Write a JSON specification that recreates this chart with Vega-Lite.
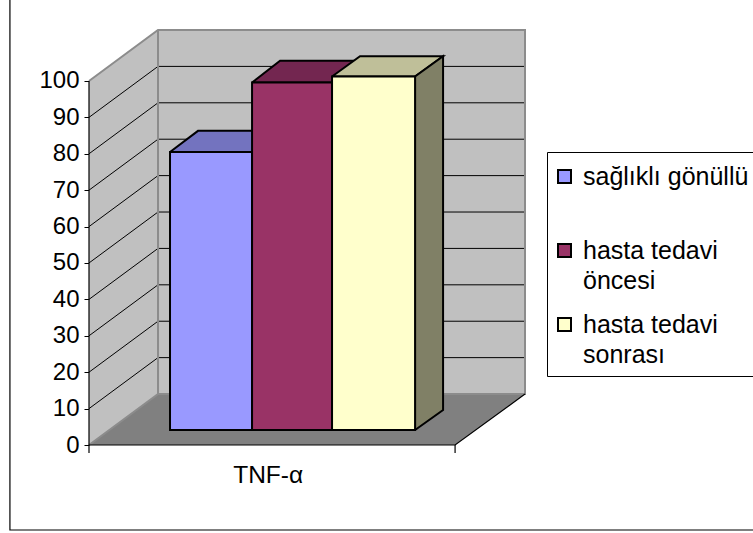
{
  "$schema": "https://vega.github.io/schema/vega-lite/v6.json",
  "width": 436,
  "height": 415,
  "autosize": {"type": "none"},
  "padding": {"left": 89, "top": 30, "right": 228, "bottom": 88},
  "background": "white",
  "config": {"view": {"stroke": null}, "font": "Liberation Sans"},
  "datasets": {
    "shell": [
      {"face": "sol duvar", "i": 0, "u": 0, "v": 0},
      {"face": "sol duvar", "i": 1, "u": 0, "v": 100},
      {"face": "sol duvar", "i": 2, "u": 18.85, "v": 114},
      {"face": "sol duvar", "i": 3, "u": 18.85, "v": 14},
      {"face": "sol duvar", "i": 4, "u": 0, "v": 0},
      {"face": "arka duvar", "i": 0, "u": 18.85, "v": 14},
      {"face": "arka duvar", "i": 1, "u": 18.85, "v": 114},
      {"face": "arka duvar", "i": 2, "u": 119.1, "v": 114},
      {"face": "arka duvar", "i": 3, "u": 119.1, "v": 14},
      {"face": "arka duvar", "i": 4, "u": 18.85, "v": 14},
      {"face": "taban", "i": 0, "u": 0, "v": 0},
      {"face": "taban", "i": 1, "u": 100, "v": 0},
      {"face": "taban", "i": 2, "u": 119.1, "v": 14},
      {"face": "taban", "i": 3, "u": 18.85, "v": 14},
      {"face": "taban", "i": 4, "u": 0, "v": 0}
    ],
    "grid": [
      {"g": 10, "i": 0, "u": 0, "v": 10}, {"g": 10, "i": 1, "u": 18.85, "v": 24}, {"g": 10, "i": 2, "u": 119.1, "v": 24},
      {"g": 20, "i": 0, "u": 0, "v": 20}, {"g": 20, "i": 1, "u": 18.85, "v": 34}, {"g": 20, "i": 2, "u": 119.1, "v": 34},
      {"g": 30, "i": 0, "u": 0, "v": 30}, {"g": 30, "i": 1, "u": 18.85, "v": 44}, {"g": 30, "i": 2, "u": 119.1, "v": 44},
      {"g": 40, "i": 0, "u": 0, "v": 40}, {"g": 40, "i": 1, "u": 18.85, "v": 54}, {"g": 40, "i": 2, "u": 119.1, "v": 54},
      {"g": 50, "i": 0, "u": 0, "v": 50}, {"g": 50, "i": 1, "u": 18.85, "v": 64}, {"g": 50, "i": 2, "u": 119.1, "v": 64},
      {"g": 60, "i": 0, "u": 0, "v": 60}, {"g": 60, "i": 1, "u": 18.85, "v": 74}, {"g": 60, "i": 2, "u": 119.1, "v": 74},
      {"g": 70, "i": 0, "u": 0, "v": 70}, {"g": 70, "i": 1, "u": 18.85, "v": 84}, {"g": 70, "i": 2, "u": 119.1, "v": 84},
      {"g": 80, "i": 0, "u": 0, "v": 80}, {"g": 80, "i": 1, "u": 18.85, "v": 94}, {"g": 80, "i": 2, "u": 119.1, "v": 94},
      {"g": 90, "i": 0, "u": 0, "v": 90}, {"g": 90, "i": 1, "u": 18.85, "v": 104}, {"g": 90, "i": 2, "u": 119.1, "v": 104}
    ],
    "wallEdges": [
      {"e": "kenar", "i": 0, "u": 0, "v": 100},
      {"e": "kenar", "i": 1, "u": 18.85, "v": 114},
      {"e": "kenar", "i": 2, "u": 119.1, "v": 114},
      {"e": "kenar", "i": 3, "u": 119.1, "v": 14},
      {"e": "kenar", "i": 4, "u": 18.85, "v": 14},
      {"e": "kenar", "i": 5, "u": 18.85, "v": 114},
      {"e": "kenar", "i": 6, "u": 18.85, "v": 14},
      {"e": "kenar", "i": 7, "u": 0, "v": 0}
    ],
    "blackEdges": [
      {"e": "sol", "i": 0, "u": 0, "v": 100},
      {"e": "sol", "i": 1, "u": 0, "v": -2.2},
      {"e": "on", "i": 0, "u": 0, "v": 0},
      {"e": "on", "i": 1, "u": 100, "v": 0},
      {"e": "on", "i": 2, "u": 119.1, "v": 14},
      {"e": "cizgi", "i": 0, "u": 100, "v": 0},
      {"e": "cizgi", "i": 1, "u": 100, "v": -2.2},
      {"e": "cerceve", "i": 0, "u": -21.6, "v": 122.3},
      {"e": "cerceve", "i": 1, "u": -21.6, "v": -23.35},
      {"e": "cerceve", "i": 2, "u": 181.4, "v": -23.35}
    ],
    "barFaces": [
      {"face": "mavi üst", "i": 0, "u": 22.13, "v": 80.49},
      {"face": "mavi üst", "i": 1, "u": 44.54, "v": 80.49},
      {"face": "mavi üst", "i": 2, "u": 52.19, "v": 86.3},
      {"face": "mavi üst", "i": 3, "u": 29.78, "v": 86.3},
      {"face": "mavi üst", "i": 4, "u": 22.13, "v": 80.49},
      {"face": "mor üst", "i": 0, "u": 44.54, "v": 99.59},
      {"face": "mor üst", "i": 1, "u": 66.39, "v": 99.59},
      {"face": "mor üst", "i": 2, "u": 74.04, "v": 105.55},
      {"face": "mor üst", "i": 3, "u": 52.19, "v": 105.55},
      {"face": "mor üst", "i": 4, "u": 44.54, "v": 99.59},
      {"face": "sarı üst", "i": 0, "u": 66.39, "v": 101.24},
      {"face": "sarı üst", "i": 1, "u": 89.07, "v": 101.24},
      {"face": "sarı üst", "i": 2, "u": 96.72, "v": 106.8},
      {"face": "sarı üst", "i": 3, "u": 74.04, "v": 106.8},
      {"face": "sarı üst", "i": 4, "u": 66.39, "v": 101.24},
      {"face": "sarı yan", "i": 0, "u": 89.07, "v": 4.12},
      {"face": "sarı yan", "i": 1, "u": 89.07, "v": 101.24},
      {"face": "sarı yan", "i": 2, "u": 96.72, "v": 106.8},
      {"face": "sarı yan", "i": 3, "u": 96.72, "v": 9.61},
      {"face": "sarı yan", "i": 4, "u": 89.07, "v": 4.12}
    ],
    "bars": [
      {"series": "sağlıklı gönüllü", "left": 22.13, "right": 44.54, "base": 4.12, "top": 80.49},
      {"series": "hasta tedavi öncesi", "left": 44.54, "right": 66.39, "base": 4.12, "top": 99.59},
      {"series": "hasta tedavi sonrası", "left": 66.39, "right": 89.07, "base": 4.12, "top": 101.24}
    ]
  },
  "resolve": {"scale": {"fill": "independent"}},
  "layer": [
    {
      "data": {"name": "shell"},
      "mark": {"type": "line", "strokeWidth": 0, "interpolate": "linear"},
      "encoding": {
        "x": {
          "field": "u", "type": "quantitative",
          "scale": {"domain": [0, 119.1], "nice": false, "zero": false},
          "axis": {
            "values": [48.8], "title": null, "grid": false, "domain": false,
            "tickSize": 0, "labelPadding": 18, "labelFontSize": 24.5,
            "labelColor": "black", "labelFont": "Liberation Sans",
            "labelExpr": "'TNF-α'"
          }
        },
        "y": {
          "field": "v", "type": "quantitative",
          "scale": {"domain": [0, 114], "nice": false, "zero": false},
          "axis": {
            "values": [0, 10, 20, 30, 40, 50, 60, 70, 80, 90, 100],
            "title": null, "grid": false, "domain": false,
            "tickSize": 5, "tickColor": "black", "labelPadding": 5,
            "labelFontSize": 24, "labelColor": "black",
            "labelFont": "Liberation Sans"
          }
        },
        "order": {"field": "i", "type": "ordinal"},
        "detail": {"field": "face"},
        "fill": {
          "field": "face", "type": "nominal", "legend": null,
          "scale": {"domain": ["sol duvar", "arka duvar", "taban"], "range": ["#c0c0c0", "#c0c0c0", "#808080"]}
        }
      }
    },
    {
      "data": {"name": "grid"},
      "mark": {"type": "line", "stroke": "black", "strokeWidth": 1},
      "encoding": {
        "x": {"field": "u", "type": "quantitative"},
        "y": {"field": "v", "type": "quantitative"},
        "order": {"field": "i", "type": "ordinal"},
        "detail": {"field": "g"}
      }
    },
    {
      "data": {"name": "wallEdges"},
      "mark": {"type": "line", "stroke": "#8c8c8c", "strokeWidth": 2},
      "encoding": {
        "x": {"field": "u", "type": "quantitative"},
        "y": {"field": "v", "type": "quantitative"},
        "order": {"field": "i", "type": "ordinal"},
        "detail": {"field": "e"}
      }
    },
    {
      "data": {"name": "blackEdges"},
      "mark": {"type": "line", "stroke": "black", "strokeWidth": 1.2},
      "encoding": {
        "x": {"field": "u", "type": "quantitative"},
        "y": {"field": "v", "type": "quantitative"},
        "order": {"field": "i", "type": "ordinal"},
        "detail": {"field": "e"}
      }
    },
    {
      "data": {"name": "barFaces"},
      "mark": {"type": "line", "stroke": "black", "strokeWidth": 2},
      "encoding": {
        "x": {"field": "u", "type": "quantitative"},
        "y": {"field": "v", "type": "quantitative"},
        "order": {"field": "i", "type": "ordinal"},
        "detail": {"field": "face"},
        "fill": {
          "field": "face", "type": "nominal", "legend": null,
          "scale": {"domain": ["mavi üst", "mor üst", "sarı üst", "sarı yan"], "range": ["#7373bf", "#732650", "#bfbf99", "#808066"]}
        }
      }
    },
    {
      "data": {"name": "bars"},
      "mark": {"type": "rect", "stroke": "black", "strokeWidth": 2},
      "encoding": {
        "x": {"field": "left", "type": "quantitative"},
        "x2": {"field": "right"},
        "y": {"field": "base", "type": "quantitative"},
        "y2": {"field": "top"},
        "fill": {
          "field": "series", "type": "nominal",
          "scale": {
            "domain": ["sağlıklı gönüllü", "hasta tedavi öncesi", "hasta tedavi sonrası"],
            "range": ["#9999ff", "#993366", "#ffffcc"]
          },
          "legend": {
            "title": " ",
            "titleFontSize": 1,
            "titlePadding": 3,
            "orient": "none",
            "legendX": 458,
            "legendY": 122,
            "padding": 8,
            "fillColor": "white",
            "strokeColor": "black",
            "symbolType": "square",
            "symbolSize": 169,
            "symbolStrokeColor": "black",
            "symbolStrokeWidth": 2,
            "symbolOffset": -3,
            "labelFontSize": 25,
            "labelFont": "Liberation Sans",
            "labelColor": "black",
            "labelLimit": 400,
            "labelOffset": 6,
            "rowPadding": 18,
            "labelExpr": "datum.label == 'hasta tedavi öncesi' ? ['hasta tedavi', 'öncesi'] : datum.label == 'hasta tedavi sonrası' ? ['hasta tedavi', 'sonrası'] : [datum.label, ' ']",
            "encode": {"labels": {"update": {"lineHeight": {"value": 30}}}}
          }
        }
      }
    }
  ]
}
